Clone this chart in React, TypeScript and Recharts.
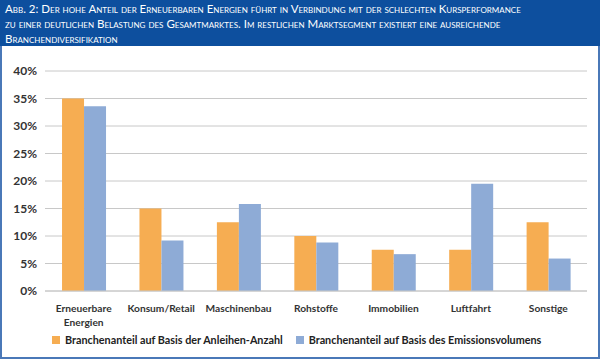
import React from 'react';
import { BarChart, Bar, XAxis, YAxis, CartesianGrid, Legend } from 'recharts';

const CATEGORIES = ['Erneuerbare Energien', 'Konsum/Retail', 'Maschinenbau', 'Rohstoffe', 'Immobilien', 'Luftfahrt', 'Sonstige'];
const ANLEIHEN_ANZAHL = [35, 15, 12.5, 10, 7.5, 7.5, 12.5];
const EMISSIONSVOLUMEN = [33.6, 9.2, 15.8, 8.8, 6.7, 19.5, 5.9];
const Y_TICKS = [0, 5, 10, 15, 20, 25, 30, 35, 40];

const SERIES = [
  { key: 'anzahl', name: 'Branchenanteil auf Basis der Anleihen-Anzahl', color: '#f6ad52' },
  { key: 'volumen', name: 'Branchenanteil auf Basis des Emissionsvolumens', color: '#8eabd6' },
];

const data = CATEGORIES.map((name, i) => ({
  name,
  anzahl: ANLEIHEN_ANZAHL[i],
  volumen: EMISSIONSVOLUMEN[i],
}));

const FONT = 'Lato, "Open Sans", sans-serif';

const CategoryTick = (props: any) => {
  const { x, y, payload } = props;
  const words = String(payload.value).split(' ');
  return (
    <text x={x} y={y + 13} textAnchor="middle" fill="#333" fontSize={10.2} fontWeight={700} fontFamily={FONT}>
      {words.map((w, i) => (
        <tspan key={i} x={x} dy={i === 0 ? 0 : 14}>{w}</tspan>
      ))}
    </text>
  );
};

const LegendBox = () => (
  <div style={{ display: 'flex', fontFamily: FONT, fontSize: 10.8, fontWeight: 700, color: '#222', paddingLeft: 52, whiteSpace: 'nowrap', paddingTop: 2 }}>
    {SERIES.map((s, i) => (
      <div key={s.key} style={{ display: 'flex', alignItems: 'center', marginRight: i === 0 ? 13 : 0 }}>
        <span style={{ width: 8, height: 8, background: s.color, display: 'inline-block', marginRight: 5 }} />
        {s.name}
      </div>
    ))}
  </div>
);

export default function App() {
  return (
    <div style={{ position: 'absolute', left: 0, top: 0, width: 600, height: 359, background: '#fff' }}>
      <div style={{
        height: 46, background: '#0d4f9e', color: '#fff', fontFamily: FONT, fontSize: 11.5,
        fontVariant: 'small-caps', lineHeight: '15px', padding: '1px 4px 0 5px', boxSizing: 'border-box', whiteSpace: 'nowrap',
      }}>
        Abb. 2: Der hohe Anteil der Erneuerbaren Energien führt in Verbindung mit der schlechten Kursperformance<br />
        zu einer deutlichen Belastung des Gesamtmarktes. Im restlichen Marktsegment existiert eine ausreichende<br />
        Branchendiversifikation
      </div>
      <div style={{
        position: 'absolute', top: 46, left: 0, width: 600, height: 313, boxSizing: 'border-box',
        borderLeft: '2px solid #4a78b8', borderRight: '2px solid #4a78b8', borderBottom: '2px solid #4a78b8',
      }} />
      <div style={{ position: 'absolute', top: 46, left: 0 }}>
        <BarChart width={600} height={313} data={data} margin={{ top: 25, right: 13, left: 0, bottom: 0 }} barCategoryGap="22%" barGap={0}>
          <CartesianGrid vertical={false} stroke="#c8c8c8" />
          <XAxis dataKey="name" interval={0} tick={<CategoryTick />} tickLine={false} axisLine={{ stroke: '#c8c8c8' }} height={40} />
          <YAxis
            domain={[0, 40]}
            ticks={Y_TICKS}
            width={45}
            axisLine={false}
            tickLine={false}
            tickFormatter={(v: number) => `${v}%`}
            tick={{ fontSize: 12, fontWeight: 700, fill: '#333', fontFamily: FONT }}
          />
          <Legend verticalAlign="bottom" height={28} content={<LegendBox />} />
          {SERIES.map((s) => (
            <Bar key={s.key} dataKey={s.key} name={s.name} fill={s.color} isAnimationActive={false} />
          ))}
        </BarChart>
      </div>
    </div>
  );
}
